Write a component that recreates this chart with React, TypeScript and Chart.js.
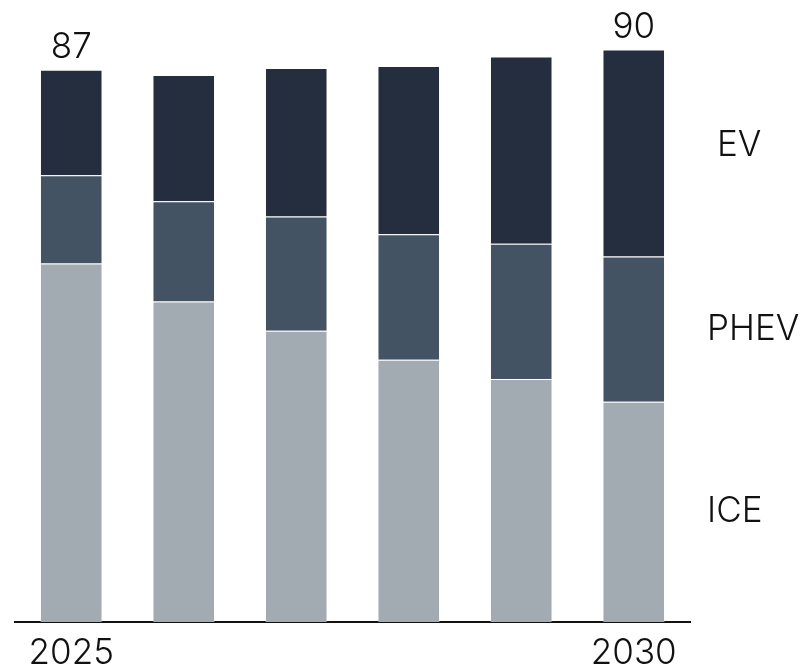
import React, { useEffect, useRef } from "react";
import { Chart, registerables } from "chart.js";

Chart.register(...registerables);

const years = ["2025", "2026", "2027", "2028", "2029", "2030"];
const shownYears = ["2025", "2030"];
const iceValues = [56.5, 50.5, 45.9, 41.3, 38.3, 34.7];
const phevValues = [13.9, 15.8, 18.0, 19.8, 21.3, 22.9];
const evValues = [16.6, 19.9, 23.4, 26.5, 29.5, 32.6];
const totalLabels = ["87", "", "", "", "", "90"];
const seriesNames = ["ICE", "PHEV", "EV"];
const seriesColors = ["#a2aab2", "#445363", "#252e3e"];

const FONT = "Inter, 'Noto Sans', sans-serif";

const annotationsPlugin = {
  id: "customLabels",
  afterDatasetsDraw(chart: any) {
    const { ctx, chartArea } = chart;
    ctx.save();
    ctx.fillStyle = "#111111";
    ctx.font = `300 35px ${FONT}`;
    const topMeta = chart.getDatasetMeta(chart.data.datasets.length - 1);
    totalLabels.forEach((lbl, i) => {
      if (!lbl) return;
      const el = topMeta.data[i];
      ctx.textAlign = "center";
      ctx.textBaseline = "alphabetic";
      ctx.fillText(lbl, el.x, el.y - 12);
    });
    const last = years.length - 1;
    const xOffsets = [17, 17, 27];
    const yOffsets = [0, 0, -7];
    chart.data.datasets.forEach((ds: any, di: number) => {
      const el = chart.getDatasetMeta(di).data[last];
      const mid = (el.y + el.base) / 2;
      ctx.textAlign = "left";
      ctx.textBaseline = "middle";
      ctx.fillText(seriesNames[di], chartArea.right + xOffsets[di], mid + yOffsets[di]);
    });
    ctx.restore();
  },
};

export default function App() {
  const ref = useRef<HTMLCanvasElement | null>(null);
  useEffect(() => {
    if (!ref.current) return;
    const datasetsValues = [iceValues, phevValues, evValues];
    const chart = new Chart(ref.current, {
      type: "bar",
      data: {
        labels: years,
        datasets: datasetsValues.map((vals, i) => ({
          label: seriesNames[i],
          data: vals,
          backgroundColor: seriesColors[i],
          borderColor: "rgba(255,255,255,0.25)",
          borderWidth: 1,
          borderSkipped: "bottom",
          barPercentage: 0.556,
          categoryPercentage: 1,
        })),
      },
      options: {
        responsive: false,
        animation: false,
        layout: { padding: { left: 15, right: 110, top: 0, bottom: -12 } },
        plugins: {
          legend: { display: false },
          tooltip: { enabled: false },
        },
        scales: {
          x: {
            stacked: true,
            grid: { display: false, drawTicks: false },
            border: { display: true, color: "#111111", width: 2 },
            ticks: {
              color: "#111111",
              font: { family: FONT, size: 35, weight: "300" as any },
              padding: 10,
              maxRotation: 0,
              autoSkip: false,
              callback: (_v: any, i: number) =>
                shownYears.includes(years[i]) ? years[i] : "",
            },
          },
          y: {
            stacked: true,
            display: false,
            min: 0,
            max: 98,
          },
        },
      },
      plugins: [annotationsPlugin],
    });
    return () => chart.destroy();
  }, []);
  return (
    <div style={{ position: "fixed", left: 0, top: 0, width: 800, height: 672, background: "#fff" }}>
      <canvas ref={ref} width={800} height={672} />
    </div>
  );
}
